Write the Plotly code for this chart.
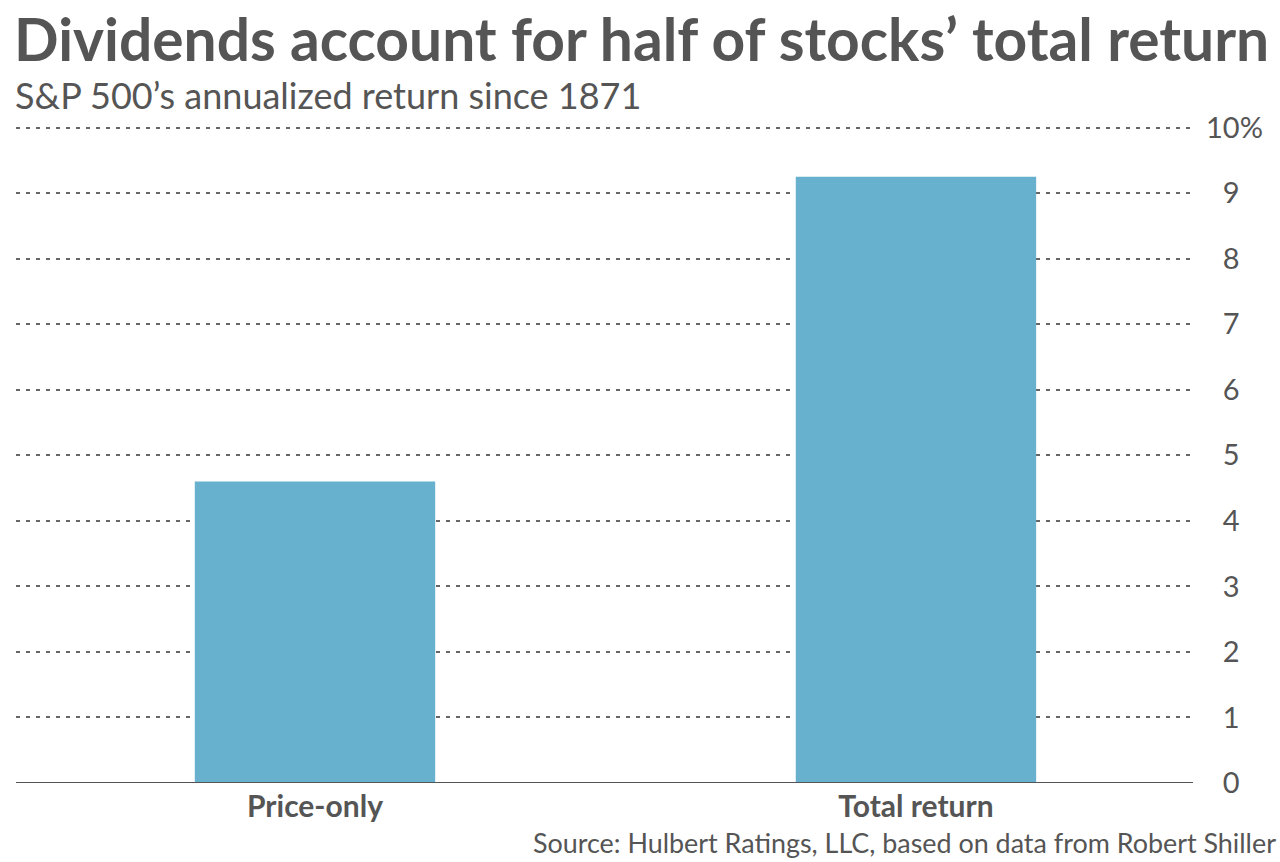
import plotly.graph_objects as go

categories = ["Price-only", "Total return"]
values = [4.6, 9.25]
tick_vals = [0, 1, 2, 3, 4, 5, 6, 7, 8, 9, 10]
tick_text = ["\u20070", "\u20071", "\u20072", "\u20073", "\u20074", "\u20075",
             "\u20076", "\u20077", "\u20078", "\u20079", "10%"]

title = "Dividends account for half of stocks\u2019 total return"
subtitle = "S&P 500\u2019s annualized return since 1871"
source = "Source: Hulbert Ratings, LLC, based on data from Robert Shiller"

W, H = 1280, 862
L, R, T, B = 16, 1280 - 1193, 121, 862 - 783
pw = W - L - R
ph = H - T - B

fig = go.Figure(go.Bar(
    x=[0, 1], y=values, width=0.4,
    marker=dict(color="#67b1cf", line=dict(width=0)),
    hoverinfo="skip",
))

fig.update_layout(
    width=W, height=H,
    margin=dict(l=L, r=R, t=T, b=B),
    paper_bgcolor="white", plot_bgcolor="white",
    showlegend=False,
    font=dict(family="Lato", color="#555555"),
    title=dict(
        text=title, x=14 / W, xanchor="left", xref="container",
        y=1 - 20 / H, yanchor="top", yref="container",
        font=dict(family="Lato", size=58.7, weight=700, color="#555555"),
    ),
    xaxis=dict(
        range=[-0.4975, 1.461],
        tickmode="array", tickvals=[0, 1], ticktext=categories,
        tickfont=dict(family="Lato", size=30, weight=700, color="#555555"),
        showgrid=False, zeroline=False, showline=False, ticks="",
        ticklabelstandoff=3,
        fixedrange=True,
    ),
    yaxis=dict(
        range=[0, 10.1], side="right",
        tickmode="array", tickvals=tick_vals, ticktext=tick_text,
        tickfont=dict(family="Lato", size=29, color="#555555"),
        showgrid=True, gridcolor="#666666", gridwidth=2, griddash="4px,6px",
        zeroline=False, showline=False, ticks="",
        ticklabelstandoff=12,
        fixedrange=True,
    ),
    annotations=[
        dict(text=subtitle, xref="paper", yref="paper", x=-3 / pw, y=1 + 26 / ph,
             xanchor="left", yanchor="middle", showarrow=False,
             font=dict(family="Lato", size=36, color="#555555")),
        dict(text=source, xref="paper", yref="paper", x=(531 - L) / pw, y=-60 / ph,
             xanchor="left", yanchor="middle", showarrow=False,
             font=dict(family="Lato", size=26.9, color="#555555")),
    ],
    shapes=[
        dict(type="line", xref="paper", yref="y", x0=0, x1=1, y0=0, y1=0,
             line=dict(color="#555555", width=2)),
    ],
)

fig.write_html("out.html", config={"displayModeBar": False},
               post_script="document.body.style.margin='0';")
